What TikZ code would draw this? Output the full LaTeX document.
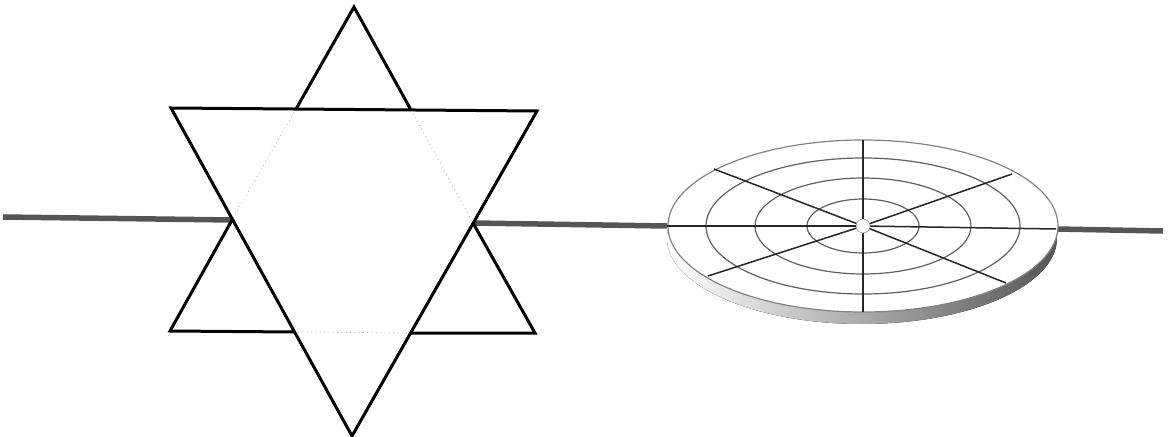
\documentclass[tikz,border=0pt]{standalone}
\usepackage{amsmath,amssymb}
\usetikzlibrary{calc}
\definecolor{figAxle}{RGB}{85,85,85}
\definecolor{figRing}{RGB}{95,95,95}
\definecolor{figRim}{RGB}{130,130,130}
\definecolor{figShade}{RGB}{85,85,85}

\begin{document}
\begin{tikzpicture}[x=0.1cm,y=-0.1cm,
  starline/.style={black,line width=0.3mm,line join=miter},
  hiddenline/.style={figRim!70,line width=0.08mm,densely dotted},
  axle/.style={figAxle,line width=0.55mm},
  ringline/.style={figRing,line width=0.12mm},
  rimline/.style={figRim,line width=0.12mm},
  spoke/.style={black!85,line width=0.15mm}]
\useasboundingbox (0,0) rectangle (116.9,43.7);
% star points and crossings
\coordinate (top) at (35.4,0.7);
\coordinate (upL) at (17.1,10.8);
\coordinate (upR) at (53.7,11.1);
\coordinate (lowL) at (17.0,33.1);
\coordinate (lowR) at (53.5,33.3);
\coordinate (bot) at (35.2,43.6);
\coordinate (xTL) at (29.6,10.9);
\coordinate (xTR) at (41.1,11.0);
\coordinate (xL) at (23.2,22.0);
\coordinate (xR) at (47.3,22.3);
\coordinate (xBL) at (29.4,33.2);
\coordinate (xBR) at (41.0,33.3);
% disc
\coordinate (hub) at (86.3,22.6);
\coordinate (rimL) at (66.7,22.6);
\coordinate (rimR) at (105.6,22.9);
\coordinate (rimT) at (86.3,14.0);
\coordinate (rimB) at (86.3,31.2);
% axle pieces
\coordinate (axA) at (0.3,21.7);
\coordinate (axB) at (116.3,23.1);
\draw[axle] (axA) -- (xL);
\draw[axle] (xR) -- (rimL);
\draw[axle] (rimR) -- (axB);
% star
\draw[hiddenline] (xTL) -- (xL);
\draw[hiddenline] (xTR) -- (xR);
\draw[hiddenline] (xBL) -- (xBR);
\draw[starline] (xTL) -- (top) -- (xTR);
\draw[starline] (upL) -- (upR) -- (bot) -- cycle;
\draw[starline] (xL) -- (lowL) -- (xBL);
\draw[starline] (xR) -- (lowR) -- (xBR);
% disc edge
\fill[left color=white,right color=figShade,shading angle=90]
  (86.2,23.8) ellipse [x radius=19.5,y radius=8.6];
\fill[white] (hub) ellipse [x radius=19.5,y radius=8.6];
\draw[rimline] (hub) ellipse [x radius=19.5,y radius=8.6];
\foreach \rx/\ry in {15.7/6.8,10.8/4.8,5.6/2.7}
  \draw[ringline] (hub) ellipse [x radius=\rx,y radius=\ry];
% spokes
\coordinate (spA) at (71.4,16.9);
\coordinate (spB) at (101.2,17.4);
\coordinate (spC) at (70.8,27.6);
\coordinate (spD) at (100.6,28.3);
\foreach \p in {spA,spB,spC,spD,rimL,rimR,rimT,rimB}
  \draw[spoke] (\p) -- (hub);
\node[circle,fill=white,draw=figRim,line width=0.05mm,minimum size=1.4mm,inner sep=0pt] (hubhole) at (hub) {};
\end{tikzpicture}
\end{document}
